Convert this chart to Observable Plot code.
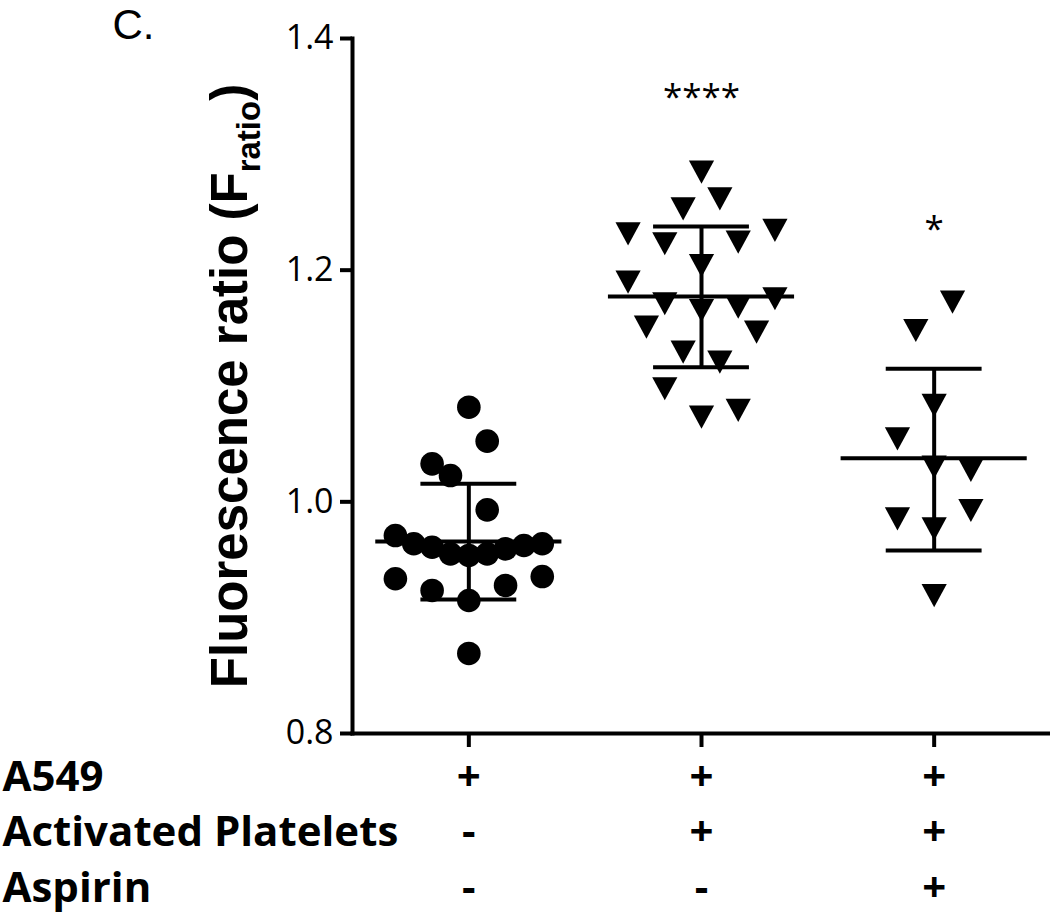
<!DOCTYPE html>
<html>
<head>
<meta charset="utf-8">
<script src="https://cdn.jsdelivr.net/npm/d3@7"></script>
<script src="https://cdn.jsdelivr.net/npm/@observablehq/plot@0.6"></script>
<style>
  html, body { margin: 0; padding: 0; background: #fff; }
  svg { display: block; }
</style>
</head>
<body>
<script>
// ---- data ----
const groups = ["A549", "A549 + Activated Platelets", "A549 + Activated Platelets + Aspirin"];
const rowLabels = ["A549", "Activated Platelets", "Aspirin"];
// condition signs per group (rows: A549, Activated Platelets, Aspirin)
const conditions = [["+", "-", "-"], ["+", "+", "-"], ["+", "+", "+"]];

// group 1 (circles): values and horizontal swarm slot
const g1Values = [1.0817, 1.0524, 1.0328, 1.0227, 0.9931,
  0.9709, 0.9638, 0.9608, 0.9551, 0.9537, 0.9551, 0.9594, 0.9623, 0.9638,
  0.9336, 0.9235, 0.9148, 0.9278, 0.9355, 0.8691];
const g1Slots = [0, 1, -2, -1, 1,
  -4, -3, -2, -1, 0, 1, 2, 3, 4,
  -4, -2, 0, 2, 4, 0];

// group 2 (triangles)
const g2Values = [1.2846, 1.2616, 1.2529, 1.2314, 1.2228, 1.2242, 1.2343, 1.2040,
  1.1896, 1.1710, 1.1652, 1.1680, 1.1753, 1.1508, 1.1465, 1.1292, 1.1206,
  1.0976, 1.0731, 1.0789];
const g2Slots = [0, 1, -1, -4, -2, 2, 4, 0, -4, -2, 0, 2, 4, -3, 3, -1, 1, -2, 0, 2];

// group 3 (triangles)
const g3Values = [1.1724, 1.1479, 1.0832, 1.0544, 1.0299, 1.0271, 0.9853, 0.9925, 0.9767, 0.9191];
const g3Slots = [1, -1, 0, -2, 0, 2, -2, 2, 0, 0];

// mean and SD bars as drawn
const means = [0.9658, 1.1773, 1.0377];
const lowers = [0.9157, 1.1162, 0.9580];
const uppers = [1.0156, 1.2377, 1.1149];

// significance annotations
const sigLabels = ["", "****", "*"];
const sigY = [null, 1.361, 1.247];

const yTicks = [0.8, 1.0, 1.2, 1.4];
const yLabel = "Fluorescence ratio (F";
const yLabelSub = "ratio";
const panelLabel = "C.";

// ---- build tables ----
const slotWidth = 0.0789; // one swarm column in group units
const toPoints = (vals, slots, g) => vals.map((v, k) => ({g, v, x: g + slots[k] * slotWidth}));
const circles = toPoints(g1Values, g1Slots, 0);
const triangles = [...toPoints(g2Values, g2Slots, 1), ...toPoints(g3Values, g3Slots, 2)];
const stats = groups.map((name, i) => ({i, mean: means[i], lo: lowers[i], hi: uppers[i]}));
const sigs = sigLabels.map((t, i) => ({i, t, y: sigY[i]})).filter(d => d.t);

const triangleDown = {
  draw(ctx, size) {
    const r = Math.sqrt(size / Math.PI);
    ctx.moveTo(-r, -0.92 * r);
    ctx.lineTo(r, -0.92 * r);
    ctx.lineTo(0, 0.92 * r);
    ctx.closePath();
  }
};

const chart = Plot.plot({
  width: 1050,
  height: 915,
  marginLeft: 352,
  marginRight: 0,
  marginTop: 38,
  marginBottom: 182,
  x: {type: "linear", domain: [-0.5, 2.5], axis: null},
  y: {domain: [0.8, 1.4], axis: null},
  style: {fontFamily: "Open Sans", color: "black", background: "white", overflow: "visible"},
  marks: [
    Plot.axisY({ticks: yTicks, tickFormat: d3.format(".1f"), tickSize: 12, tickPadding: 7,
      strokeWidth: 4, fontSize: 34, fontFamily: "Open Sans", label: null, anchor: "left"}),
    Plot.axisX({ticks: [0, 1, 2], tickFormat: i => conditions[i].join("\n"), tickSize: 14, tickPadding: 4,
      strokeWidth: 4, fontSize: 42, fontWeight: "bold", fontFamily: "Open Sans", lineHeight: 1.32,
      label: null, anchor: "bottom"}),
    Plot.frame({anchor: "left", strokeWidth: 4, strokeLinecap: "square"}),
    Plot.frame({anchor: "bottom", strokeWidth: 4}),
    Plot.text([rowLabels.join("\n")], {frameAnchor: "bottom-left", textAnchor: "start", lineAnchor: "top",
      dx: -350, dy: 18, fontSize: 42, fontWeight: "bold", fontFamily: "Open Sans", lineHeight: 1.32}),
    Plot.text([yLabel], {frameAnchor: "left", rotate: -90, lineAnchor: "top", textAnchor: "middle",
      dx: -142, dy: 0, fontSize: 51, fontWeight: "bold", fontFamily: "Liberation Sans"}),
    Plot.text([panelLabel], {frameAnchor: "top-left", textAnchor: "start", lineAnchor: "top",
      dx: -240, dy: -29, fontSize: 42, fontFamily: "Liberation Sans"}),
    Plot.ruleX(stats, {x: "i", y1: "lo", y2: "hi", strokeWidth: 4}),
    Plot.ruleY(stats, {y: "mean", x1: d => d.i - 0.4, x2: d => d.i + 0.4, strokeWidth: 4}),
    Plot.ruleY(stats, {y: "lo", x1: d => d.i - 0.206, x2: d => d.i + 0.206, strokeWidth: 4}),
    Plot.ruleY(stats, {y: "hi", x1: d => d.i - 0.206, x2: d => d.i + 0.206, strokeWidth: 4}),
    Plot.dot(circles, {x: "x", y: "v", r: 11.8, fill: "black", stroke: "none"}),
    Plot.dot(triangles, {x: "x", y: "v", r: 12.6, symbol: triangleDown, fill: "black", stroke: "none"}),
    Plot.text(sigs, {x: "i", y: "y", text: "t", lineAnchor: "top", fontSize: 35, fontFamily: "Open Sans"})
  ]
});

// subscript in the y-axis title
for (const t of chart.querySelectorAll("text")) {
  if (t.textContent === yLabel) {
    t.textContent = "";
    const ns = "http://www.w3.org/2000/svg";
    const a = document.createElementNS(ns, "tspan"); a.textContent = yLabel;
    const b = document.createElementNS(ns, "tspan"); b.textContent = yLabelSub;
    b.setAttribute("font-size", "33"); b.setAttribute("dy", "13");
    const c = document.createElementNS(ns, "tspan"); c.textContent = ")";
    c.setAttribute("dy", "-13");
    t.append(a, b, c);
  }
}
document.body.append(chart);
</script>
</body>
</html>
